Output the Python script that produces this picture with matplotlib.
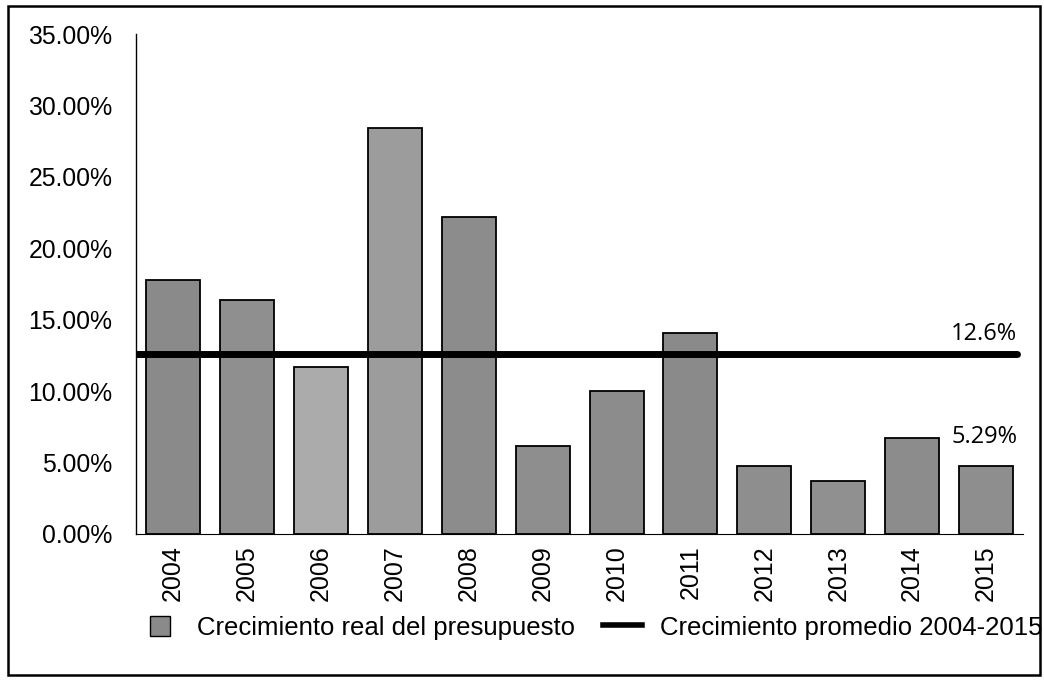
import matplotlib.pyplot as plt
from matplotlib.patches import Rectangle
from matplotlib.lines import Line2D
from matplotlib.legend_handler import HandlerPatch
from matplotlib.ticker import FuncFormatter

# data
years = ["2004", "2005", "2006", "2007", "2008", "2009",
         "2010", "2011", "2012", "2013", "2014", "2015"]
growth = [17.8, 16.4, 11.7, 28.4, 22.2, 6.15, 10.0, 14.1, 4.75, 3.7, 6.7, 4.75]
average = 12.6
avg_label = "12.6%"
last_label = "5.29%"
bar_colors = ["#8a8a8a", "#8f8f8f", "#ababab", "#9c9c9c", "#8c8c8c", "#8e8e8e",
              "#8c8c8c", "#8a8a8a", "#8e8e8e", "#909090", "#8c8c8c", "#8e8e8e"]

plt.rcParams['font.family'] = ['Liberation Sans', 'DejaVu Sans']

fig = plt.figure(figsize=(10.44, 6.83), dpi=100)
ax = fig.add_axes([0.1303, 0.2182, 0.8497, 0.7318])

x = list(range(len(years)))
ax.bar(x, growth, width=0.73, color=bar_colors, edgecolor="black", linewidth=1.3)
ax.axhline(average, xmin=0, xmax=0.993, color="black", linewidth=5, solid_capstyle="round")

ax.set_xlim(-0.5, len(years) - 0.5)
ax.set_ylim(0, 35)
ax.set_yticks([0, 5, 10, 15, 20, 25, 30, 35])
ax.yaxis.set_major_formatter(FuncFormatter(lambda v, p: f"{v:.2f}%"))
ax.set_xticks(x)
ax.set_xticklabels(years, rotation=90, fontsize=18)
ax.tick_params(axis="y", length=0, pad=17, labelsize=17.8)
ax.tick_params(axis="x", length=0, pad=8)

for s in ["top", "right"]:
    ax.spines[s].set_visible(False)
ax.spines["left"].set_linewidth(1.0)
ax.spines["bottom"].set_linewidth(0.8)

ax.text(len(years) - 0.5 - 0.08, average + 0.55, avg_label, ha="right", va="bottom",
        fontsize=17, family=["Open Sans", "DejaVu Sans"])
ax.text(len(years) - 0.5 - 0.08, growth[-1] + 1.2, last_label, ha="right", va="bottom",
        fontsize=17, family=["Open Sans", "DejaVu Sans"])


def square_patch(legend, orig_handle, xdescent, ydescent, width, height, fontsize):
    # small square legend key, like the Excel one
    return Rectangle((-xdescent + (width - height) / 2, -ydescent), height, height)


handles = [Rectangle((0, 0), 1, 1, facecolor="#8a8a8a", edgecolor="black", linewidth=1),
           Line2D([0], [0], color="black", linewidth=4)]
fig.legend(handles, ["Crecimiento real del presupuesto", "Crecimiento promedio 2004-2015"],
           loc="center", bbox_to_anchor=(0.5666, 0.081), ncol=2, frameon=False,
           fontsize=18.5, handlelength=1.52, handleheight=0.82, columnspacing=1.1,
           handletextpad=0.7, borderpad=0, borderaxespad=0,
           handler_map={Rectangle: HandlerPatch(patch_func=square_patch)})

# frame around the whole figure
fig.patches.append(Rectangle((8 / 1044, 1 - 675 / 683), 1032 / 1044, 669 / 683,
                             transform=fig.transFigure, fill=False,
                             edgecolor="black", linewidth=1.8))

fig.savefig("out.png", dpi=100)
